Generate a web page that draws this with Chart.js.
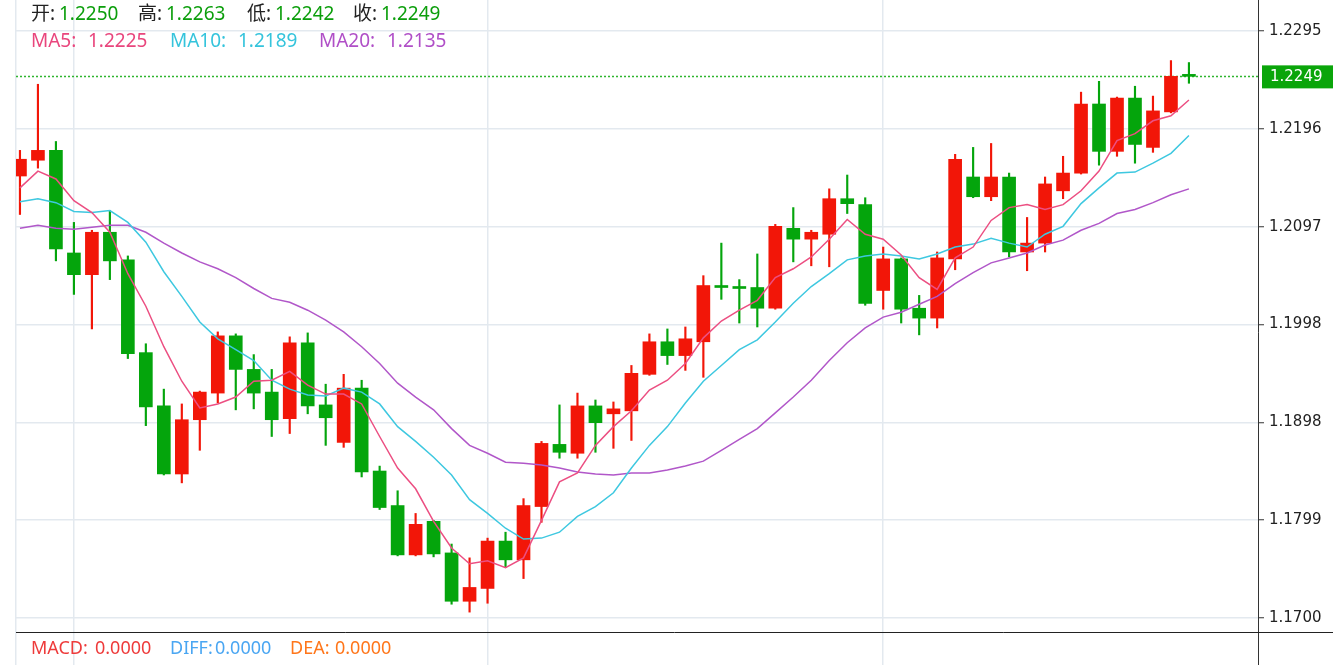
<!DOCTYPE html>
<html>
<head>
<meta charset="utf-8">
<script src="https://cdn.jsdelivr.net/npm/chart.js@4.4.0/dist/chart.umd.min.js"></script>
<style>
  html, body { margin: 0; padding: 0; background: #fff; }
  #wrap { width: 1333px; height: 665px; }
</style>
</head>
<body>
<div id="wrap"><canvas id="kline" width="1333" height="665"></canvas></div>
<script>
// K线 + 均线 (红涨绿跌)

const opens = [1.2148, 1.2164, 1.2174, 1.2070, 1.2048, 1.2091, 1.2063, 1.1969, 1.1915, 1.1846,
  1.1901, 1.1928, 1.1986, 1.1952, 1.1929, 1.1902, 1.1979, 1.1916, 1.1878, 1.1933,
  1.1849, 1.1814, 1.1764, 1.1798, 1.1766, 1.1717, 1.1730, 1.1778, 1.1759, 1.1813,
  1.1876, 1.1867, 1.1915, 1.1907, 1.1910, 1.1947, 1.1980, 1.1966, 1.1980, 1.2037,
  1.2036, 1.2035, 1.2014, 1.2095, 1.2084, 1.2089, 1.2125, 1.2119, 1.2032, 1.2064,
  1.2014, 1.2004, 1.2064, 1.2147, 1.2127, 1.2147, 1.2071, 1.2080, 1.2133, 1.2151,
  1.2221, 1.2173, 1.2227, 1.2177, 1.2213, 1.2250];
const highs = [1.2174, 1.2241, 1.2183, 1.2101, 1.2093, 1.2113, 1.2067, 1.1978, 1.1932, 1.1917,
  1.1930, 1.1990, 1.1988, 1.1967, 1.1952, 1.1985, 1.1989, 1.1937, 1.1947, 1.1941,
  1.1854, 1.1829, 1.1806, 1.1799, 1.1775, 1.1761, 1.1781, 1.1787, 1.1821, 1.1879,
  1.1916, 1.1928, 1.1921, 1.1919, 1.1956, 1.1988, 1.1993, 1.1995, 1.2047, 1.2080,
  1.2043, 1.2069, 1.2099, 1.2116, 1.2093, 1.2135, 1.2149, 1.2126, 1.2076, 1.2065,
  1.2027, 1.2071, 1.2170, 1.2177, 1.2181, 1.2151, 1.2106, 1.2147, 1.2168, 1.2233,
  1.2244, 1.2228, 1.2239, 1.2229, 1.2265, 1.2263];
const lows = [1.2109, 1.2156, 1.2062, 1.2028, 1.1993, 1.2043, 1.1963, 1.1895, 1.1845, 1.1837,
  1.1870, 1.1918, 1.1911, 1.1912, 1.1884, 1.1887, 1.1907, 1.1875, 1.1873, 1.1843,
  1.1810, 1.1763, 1.1763, 1.1762, 1.1714, 1.1706, 1.1715, 1.1751, 1.1740, 1.1797,
  1.1862, 1.1862, 1.1868, 1.1872, 1.1880, 1.1946, 1.1957, 1.1951, 1.1944, 1.2023,
  1.1999, 1.1995, 1.2013, 1.2061, 1.2057, 1.2056, 1.2110, 1.2017, 1.2013, 1.1999,
  1.1987, 1.1994, 1.2053, 1.2126, 1.2123, 1.2066, 1.2052, 1.2071, 1.2125, 1.2150,
  1.2159, 1.2168, 1.2161, 1.2172, 1.2212, 1.2242];
const closes = [1.2165, 1.2174, 1.2074, 1.2048, 1.2091, 1.2062, 1.1968, 1.1914, 1.1846, 1.1901,
  1.1929, 1.1986, 1.1952, 1.1928, 1.1901, 1.1979, 1.1915, 1.1903, 1.1933, 1.1848,
  1.1812, 1.1764, 1.1795, 1.1765, 1.1717, 1.1731, 1.1778, 1.1759, 1.1814, 1.1877,
  1.1868, 1.1915, 1.1898, 1.1912, 1.1948, 1.1980, 1.1966, 1.1983, 1.2037, 1.2035,
  1.2034, 1.2014, 1.2097, 1.2084, 1.2091, 1.2125, 1.2120, 1.2019, 1.2064, 1.2013,
  1.2004, 1.2065, 1.2165, 1.2127, 1.2147, 1.2071, 1.2080, 1.2140, 1.2151, 1.2221,
  1.2173, 1.2227, 1.2180, 1.2214, 1.2249, 1.2249];

const ma5 = [1.2136, 1.2153, 1.2145, 1.2123, 1.2111, 1.2091, 1.2049, 1.2016, 1.1975, 1.1940,
  1.1913, 1.1917, 1.1924, 1.1940, 1.1941, 1.1950, 1.1936, 1.1927, 1.1927, 1.1917,
  1.1884, 1.1852, 1.1831, 1.1798, 1.1771, 1.1755, 1.1758, 1.1751, 1.1761, 1.1799,
  1.1838, 1.1847, 1.1875, 1.1894, 1.1910, 1.1931, 1.1941, 1.1958, 1.1984, 1.2001,
  1.2012, 1.2022, 1.2045, 1.2054, 1.2066, 1.2084, 1.2104, 1.2089, 1.2084, 1.2068,
  1.2045, 1.2033, 1.2065, 1.2076, 1.2103, 1.2116, 1.2119, 1.2114, 1.2119, 1.2133,
  1.2153, 1.2184, 1.2191, 1.2204, 1.2209, 1.2225];
const ma10 = [1.2122, 1.2125, 1.2121, 1.2112, 1.2111, 1.2113, 1.2101, 1.2081, 1.2051, 1.2026,
  1.2000, 1.1983, 1.1972, 1.1961, 1.1941, 1.1932, 1.1926, 1.1925, 1.1933, 1.1929,
  1.1917, 1.1894, 1.1879, 1.1863, 1.1845, 1.1820, 1.1806, 1.1791, 1.1780, 1.1781,
  1.1787, 1.1803, 1.1813, 1.1827, 1.1852, 1.1875, 1.1894, 1.1918, 1.1940, 1.1956,
  1.1972, 1.1982, 1.2000, 1.2019, 1.2036, 1.2049, 1.2063, 1.2067, 1.2069, 1.2067,
  1.2064, 1.2069, 1.2076, 1.2079, 1.2085, 1.2080, 1.2076, 1.2089, 1.2097, 1.2120,
  1.2136, 1.2151, 1.2152, 1.2161, 1.2171, 1.2189];
const ma20 = [1.2095, 1.2098, 1.2095, 1.2094, 1.2096, 1.2098, 1.2098, 1.2091, 1.2080, 1.2070,
  1.2061, 1.2054, 1.2045, 1.2034, 1.2024, 1.2020, 1.2012, 1.2002, 1.1990, 1.1975,
  1.1958, 1.1938, 1.1924, 1.1911, 1.1892, 1.1875, 1.1867, 1.1858, 1.1857, 1.1855,
  1.1852, 1.1848, 1.1846, 1.1845, 1.1847, 1.1847, 1.1850, 1.1854, 1.1859, 1.1870,
  1.1881, 1.1892, 1.1908, 1.1924, 1.1941, 1.1961, 1.1979, 1.1994, 1.2005, 1.2010,
  1.2018, 1.2026, 1.2039, 1.2050, 1.2060, 1.2065, 1.2070, 1.2078, 1.2083, 1.2093,
  1.2100, 1.2110, 1.2114, 1.2121, 1.2129, 1.2135];

// 右侧价格刻度
const yTicks = [1.1700, 1.179917, 1.189833, 1.19975, 1.209667, 1.219583, 1.2295];
const yTickLabels = ['1.1700', '1.1799', '1.1898', '1.1998', '1.2097', '1.2196', '1.2295'];
// 日期分隔竖线所在的K线序号
const dayBreaks = [3, 26, 48];

const ohlcText = [['开', '1.2250'], ['高', '1.2263'], ['低', '1.2242'], ['收', '1.2249']];
const maText = [['MA5', '1.2225'], ['MA10', '1.2189'], ['MA20', '1.2135']];
const macdText = [['MACD', '0.0000'], ['DIFF', '0.0000'], ['DEA', '0.0000']];

const UP = '#f21608';
const DOWN = '#04a50c';
const candleColors = opens.map((o, i) => closes[i] > o ? UP : DOWN);

const bodies = opens.map((o, i) => ({ x: i, y: [o, closes[i]] }));
const wicks = lows.map((l, i) => ({ x: i, y: [l, highs[i]] }));
const line = arr => arr.map((v, i) => ({ x: i, y: v }));

const overlay = {
  id: 'overlay',
  beforeDatasetsDraw(chart) {
    const { ctx, chartArea, scales } = chart;
    const y = Math.round(scales.y.getPixelForValue(closes[closes.length - 1])) + 0.5;
    ctx.save();
    ctx.strokeStyle = '#2fb52f';
    ctx.lineWidth = 1.5;
    ctx.setLineDash([2, 2]);
    ctx.beginPath();
    ctx.moveTo(chartArea.left, y);
    ctx.lineTo(chartArea.right, y);
    ctx.stroke();
    ctx.restore();
  },
  afterDraw(chart) {
    const { ctx, chartArea, scales } = chart;
    ctx.save();
    // 主图/副图分隔线
    const sepY = Math.round(scales.y.getPixelForValue(1.16858)) + 0.5;
    ctx.strokeStyle = '#222';
    ctx.lineWidth = 1;
    ctx.beginPath();
    ctx.moveTo(chartArea.left, sepY);
    ctx.lineTo(chart.width, sepY);
    ctx.stroke();

    // 最新价标签
    const last = closes[closes.length - 1];
    const ly = scales.y.getPixelForValue(last);
    ctx.fillStyle = '#0aa50a';
    ctx.fillRect(chartArea.right + 4, ly - 11, chart.width - chartArea.right - 4, 23);
    ctx.fillStyle = '#fff';
    ctx.font = '15px "DejaVu Sans"';
    ctx.textBaseline = 'middle';
    ctx.fillText(last.toFixed(4), chartArea.right + 12, ly + 1);

    // 顶部 OHLC
    ctx.font = '19px "Noto Sans", "Noto Sans CJK SC"';
    const ohlcX = [31, 138, 247, 353];
    ohlcText.forEach((t, i) => {
      ctx.fillStyle = '#222';
      ctx.fillText(t[0] + ':', ohlcX[i], 15);
      ctx.fillStyle = '#0b9e0b';
      ctx.fillText(t[1], ohlcX[i] + 28, 15);
    });
    // 均线
    const maX = [[31, 88], [170, 238], [319, 387]];
    const maColors = ['#e9467d', '#35c4dc', '#b04fc7'];
    maText.forEach((t, i) => {
      ctx.fillStyle = maColors[i];
      ctx.fillText(t[0] + ':', maX[i][0], 42);
      ctx.fillText(t[1], maX[i][1], 42);
    });
    // MACD
    ctx.font = '18px "Noto Sans"';
    const macdX = [[31, 95], [170, 215], [290, 335]];
    const macdColors = ['#ee3b3b', '#4aa6f2', '#ff761a'];
    macdText.forEach((t, i) => {
      ctx.fillStyle = macdColors[i];
      ctx.fillText(t[0] + ':', macdX[i][0], 649);
      ctx.fillText(t[1], macdX[i][1], 649);
    });
    ctx.restore();
  }
};

function noPad(s) {
  s.paddingTop = 0;
  s.paddingBottom = 0;
  s.paddingLeft = 0;
  s.paddingRight = 0;
}

new Chart(document.getElementById('kline'), {
  type: 'bar',
  data: {
    datasets: [
      { type: 'line', label: 'MA5', data: line(ma5), borderColor: '#ec4f82', borderWidth: 1.5, pointRadius: 0, tension: 0, order: 0 },
      { type: 'line', label: 'MA10', data: line(ma10), borderColor: '#3ec8e0', borderWidth: 1.5, pointRadius: 0, tension: 0, order: 0 },
      { type: 'line', label: 'MA20', data: line(ma20), borderColor: '#b157c9', borderWidth: 1.5, pointRadius: 0, tension: 0, order: 0 },
      { label: 'body', data: bodies, backgroundColor: candleColors, barThickness: 13, minBarLength: 2, grouped: false, order: 1 },
      { label: 'wick', data: wicks, backgroundColor: candleColors, barThickness: 1.5, grouped: false, order: 2 }
    ]
  },
  options: {
    responsive: false,
    animation: false,
    devicePixelRatio: 1,
    layout: { padding: { left: 16, right: 0, top: 0, bottom: 0 } },
    plugins: { legend: { display: false }, tooltip: { enabled: false }, title: { display: false } },
    scales: {
      x: {
        type: 'linear',
        offset: false,
        bounds: 'ticks',
        min: -0.22,
        max: 68.84,
        afterBuildTicks: s => { s.ticks = [{ value: -0.22 }].concat(dayBreaks.map(v => ({ value: v }))); },
        afterFit: s => { s.height = 0; noPad(s); },
        ticks: { display: false },
        grid: { color: '#e3e9ef', lineWidth: 1.5, drawTicks: false, offset: false },
        border: { display: false }
      },
      y: {
        position: 'right',
        min: 1.16524,
        max: 1.23264,
        afterBuildTicks: s => { s.ticks = yTicks.map(v => ({ value: v })); },
        afterFit: s => { s.width = 75; noPad(s); },
        ticks: {
          color: '#222',
          font: { family: 'DejaVu Sans', size: 15 },
          padding: 5,
          callback: (v, i) => yTickLabels[i]
        },
        grid: { color: '#e3e9ef', lineWidth: 1.5, tickColor: '#333', tickLength: 6, tickWidth: 1 },
        border: { display: true, color: '#333', width: 1 }
      }
    }
  },
  plugins: [overlay]
});
</script>
</body>
</html>
